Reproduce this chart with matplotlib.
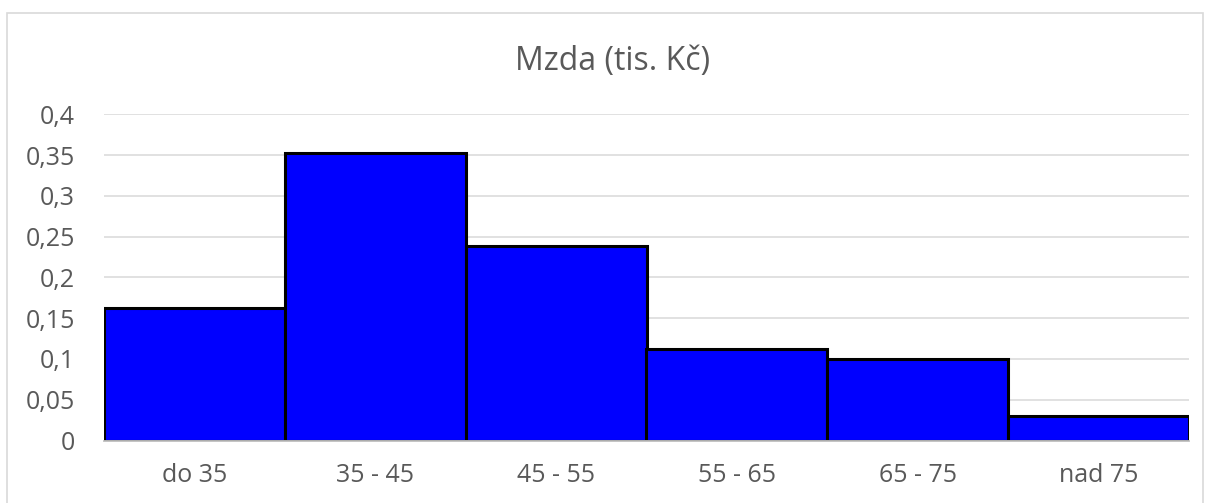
import matplotlib
matplotlib.use("Agg")
import matplotlib.pyplot as plt
from matplotlib.patches import Rectangle
from matplotlib.ticker import FixedLocator, FuncFormatter

# Relative frequencies of wage classes
categories = ["do 35", "35 - 45", "45 - 55", "55 - 65", "65 - 75", "nad 75"]
shares = [0.163, 0.352, 0.2385, 0.1125, 0.100, 0.0305]
y_ticks = [0, 0.05, 0.1, 0.15, 0.2, 0.25, 0.3, 0.35, 0.4]
title = "Mzda (tis. Kč)"

TEXT = "#595959"
GRID = "#d9d9d9"

plt.rcParams["font.family"] = ["Open Sans", "DejaVu Sans"]

W, H = 1205, 503
fig = plt.figure(figsize=(W / 100, H / 100), dpi=100)

# light chart-area border, as in the spreadsheet export
fig.patches.append(Rectangle((7 / W, -0.05), (1203 - 7) / W, (H - 13) / H + 0.05,
                             transform=fig.transFigure, fill=False,
                             edgecolor=GRID, linewidth=1.2))

ax = fig.add_axes([104 / W, (H - 440.5) / H, (1189 - 104) / W, 326.2 / H])

x = range(len(categories))
ax.bar(x, shares, width=1.0, color="#0000ff", edgecolor="black",
       linewidth=2.2, zorder=3)

ax.set_xlim(-0.5, len(categories) - 0.5)
ax.set_ylim(0, 0.4)
ax.yaxis.set_major_locator(FixedLocator(y_ticks))
ax.yaxis.set_major_formatter(FuncFormatter(lambda v, _: f"{v:g}".replace(".", ",")))
ax.set_xticks(list(x))
ax.set_xticklabels(categories)

ax.grid(axis="y", color=GRID, linewidth=1.1, zorder=0)
for side in ["top", "right", "left"]:
    ax.spines[side].set_visible(False)
ax.spines["bottom"].set_color("#bfbfbf")
ax.spines["bottom"].set_linewidth(1.3)
ax.spines["bottom"].set_zorder(4)

ax.tick_params(axis="both", length=0, labelsize=18, labelcolor=TEXT)
ax.tick_params(axis="y", pad=21)
ax.tick_params(axis="x", pad=16)

fig.text(613 / W, (H - 70) / H, title, ha="center", va="baseline",
         fontsize=23, color=TEXT)

fig.savefig("out.png", dpi=100)
